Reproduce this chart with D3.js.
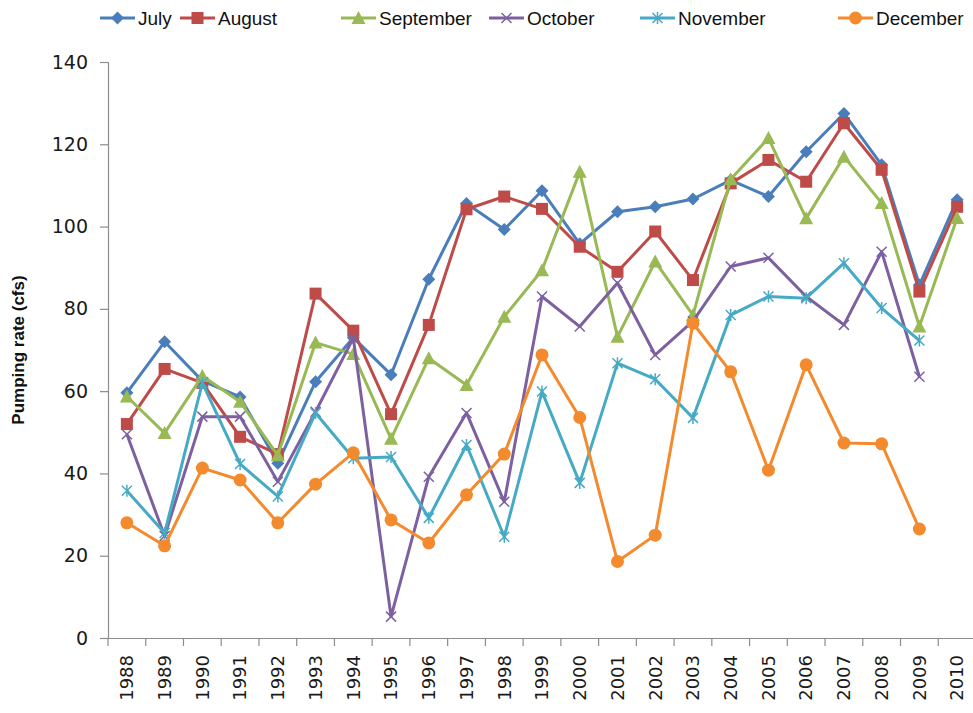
<!DOCTYPE html>
<html>
<head>
<meta charset="utf-8">
<script src="https://cdn.jsdelivr.net/npm/d3@7"></script>
<style>
  html, body { margin: 0; padding: 0; background: #fff; }
  svg { display: block; }
</style>
</head>
<body>
<svg id="chart" width="973" height="713"></svg>
<script>
// Monthly pumping rates (cfs), 1988–2010
const years = ["1988","1989","1990","1991","1992","1993","1994","1995","1996","1997","1998","1999",
               "2000","2001","2002","2003","2004","2005","2006","2007","2008","2009","2010"];

const july      = [59.6, 72.0, 62.5, 58.6, 42.5, 62.3, 73.0, 64.0, 87.2, 105.6, 99.3, 108.7,
                   95.8, 103.6, 104.8, 106.7, 111.3, 107.3, 118.2, 127.5, 115.0, 85.8, 106.5];
const august    = [52.0, 65.4, 62.0, 48.9, 44.7, 83.7, 74.7, 54.4, 76.1, 104.2, 107.3, 104.3,
                   95.1, 89.0, 98.8, 87.0, 110.5, 116.2, 110.9, 125.1, 113.8, 84.2, 104.8];
const september = [58.7, 49.8, 63.7, 57.4, 44.4, 71.8, 69.0, 48.4, 68.0, 61.5, 78.1, 89.4,
                   113.3, 73.2, 91.5, 78.5, 111.5, 121.5, 102.0, 117.0, 105.7, 75.7, 102.1];
const october   = [49.5, 24.8, 53.8, 53.8, 38.0, 55.0, 72.9, 5.2, 39.2, 54.7, 33.1, 83.0,
                   75.7, 86.3, 68.8, 77.0, 90.3, 92.4, 83.0, 76.1, 93.9, 63.5, null];
const november  = [35.8, 25.5, 62.0, 42.3, 34.4, 54.7, 43.7, 44.0, 29.2, 46.9, 24.6, 59.9,
                   37.7, 66.8, 62.9, 53.5, 78.5, 83.0, 82.6, 91.1, 80.2, 72.3, null];
const december  = [28.0, 22.4, 41.3, 38.4, 28.0, 37.4, 45.0, 28.7, 23.1, 34.8, 44.7, 68.8,
                   53.6, 18.6, 25.0, 76.5, 64.7, 40.8, 66.4, 47.4, 47.2, 26.5, null];

const yTicks = [0, 20, 40, 60, 80, 100, 120, 140];

const series = [
  { name: "July",      values: july,      color: "#4A7EBB", marker: "diamond" },
  { name: "August",    values: august,    color: "#BE4B48", marker: "square" },
  { name: "September", values: september, color: "#98B954", marker: "triangle" },
  { name: "October",   values: october,   color: "#7D60A0", marker: "cross" },
  { name: "November",  values: november,  color: "#46AAC5", marker: "star" },
  { name: "December",  values: december,  color: "#F38A2E", marker: "circle" }
];

const svg = d3.select("#chart");
const plotLeft = 108, plotRight = 976, plotTop = 62, plotBottom = 638;

const x = d3.scaleBand().domain(years).range([plotLeft, plotRight]).padding(0);
const cx = d => x(d) + x.bandwidth() / 2;
const y = d3.scaleLinear().domain([0, 140]).range([plotBottom, plotTop]);

// Axes
const axisColor = "#8c8c8c";
const yAxis = svg.append("g")
  .attr("transform", `translate(${plotLeft},0)`)
  .call(d3.axisLeft(y).tickValues(yTicks).tickSize(8).tickPadding(12).tickFormat(d3.format("d")));
yAxis.select(".domain").attr("stroke", axisColor).attr("stroke-width", 1.2);
yAxis.selectAll(".tick line").attr("stroke", axisColor).attr("stroke-width", 1.2);
yAxis.selectAll("text")
  .attr("font-family", "DejaVu Sans, Verdana, sans-serif")
  .attr("font-size", 19)
  .attr("fill", "#1a1a1a");

const xAxis = svg.append("g")
  .attr("transform", `translate(0,${plotBottom})`)
  .call(d3.axisBottom(x).tickSize(0).tickSizeOuter(0));
xAxis.select(".domain").attr("stroke", axisColor).attr("stroke-width", 1.2);
// tick marks sit between the categories
xAxis.selectAll(".sep")
  .data(years.concat(["end"]))
  .enter().append("line")
  .attr("class", "sep")
  .attr("x1", (d, i) => plotLeft + i * x.bandwidth())
  .attr("x2", (d, i) => plotLeft + i * x.bandwidth())
  .attr("y1", 0).attr("y2", 8)
  .attr("stroke", axisColor).attr("stroke-width", 1.2);
xAxis.selectAll(".tick text")
  .attr("font-family", "DejaVu Sans, Verdana, sans-serif")
  .attr("font-size", 18)
  .attr("fill", "#1a1a1a")
  .attr("text-anchor", "end")
  .attr("dy", "0.35em")
  .attr("transform", "translate(0,17) rotate(-90)")
  .attr("x", 0).attr("y", 0);

// Y axis title
svg.append("text")
  .attr("transform", `translate(24,${(plotTop + plotBottom) / 2}) rotate(-90)`)
  .attr("text-anchor", "middle")
  .attr("font-family", "Liberation Sans Narrow, Liberation Sans, Arial, sans-serif")
  .attr("font-weight", "bold")
  .attr("font-size", 17)
  .attr("fill", "#111")
  .text("Pumping rate (cfs)");

// Marker shapes
function drawMarker(g, type, color, px, py) {
  if (type === "diamond") {
    const r = 6.5;
    g.append("path").attr("d", `M${px},${py-r}L${px+r},${py}L${px},${py+r}L${px-r},${py}Z`)
      .attr("fill", color);
  } else if (type === "square") {
    g.append("rect").attr("x", px - 6).attr("y", py - 6).attr("width", 12).attr("height", 12)
      .attr("fill", color);
  } else if (type === "triangle") {
    g.append("path").attr("d", `M${px},${py-7}L${px+7},${py+6}L${px-7},${py+6}Z`)
      .attr("fill", color);
  } else if (type === "cross") {
    g.append("path").attr("d", `M${px-5},${py-5}L${px+5},${py+5}M${px-5},${py+5}L${px+5},${py-5}`)
      .attr("stroke", color).attr("stroke-width", 1.5).attr("fill", "none");
  } else if (type === "star") {
    g.append("path").attr("d", `M${px-5},${py-5}L${px+5},${py+5}M${px-5},${py+5}L${px+5},${py-5}M${px},${py-6}L${px},${py+6}`)
      .attr("stroke", color).attr("stroke-width", 1.5).attr("fill", "none");
  } else if (type === "circle") {
    g.append("circle").attr("cx", px).attr("cy", py).attr("r", 6.5).attr("fill", color);
  }
}

const line = d3.line()
  .defined(d => d.v != null)
  .x(d => cx(d.year))
  .y(d => y(d.v));

const plot = svg.append("g");
series.forEach(s => {
  const pts = years.map((yr, i) => ({ year: yr, v: s.values[i] }));
  const g = plot.append("g");
  g.append("path")
    .datum(pts)
    .attr("d", line)
    .attr("fill", "none")
    .attr("stroke", s.color)
    .attr("stroke-width", 3)
    .attr("stroke-linejoin", "round");
  pts.filter(p => p.v != null).forEach(p => drawMarker(g, s.marker, s.color, cx(p.year), y(p.v)));
});

// Legend
const legendX = [100, 180, 341, 489, 640, 838];
const legend = svg.append("g");
series.forEach((s, i) => {
  const lx = legendX[i], ly = 18;
  legend.append("line")
    .attr("x1", lx).attr("x2", lx + 35).attr("y1", ly).attr("y2", ly)
    .attr("stroke", s.color).attr("stroke-width", 3);
  drawMarker(legend, s.marker, s.color, lx + 17.5, ly);
  legend.append("text")
    .attr("x", lx + 38).attr("y", ly)
    .attr("dy", "0.35em")
    .attr("font-family", "Liberation Sans Narrow, Liberation Sans, Arial, sans-serif")
    .attr("font-size", 19)
    .attr("fill", "#111")
    .text(s.name);
});
</script>
</body>
</html>
